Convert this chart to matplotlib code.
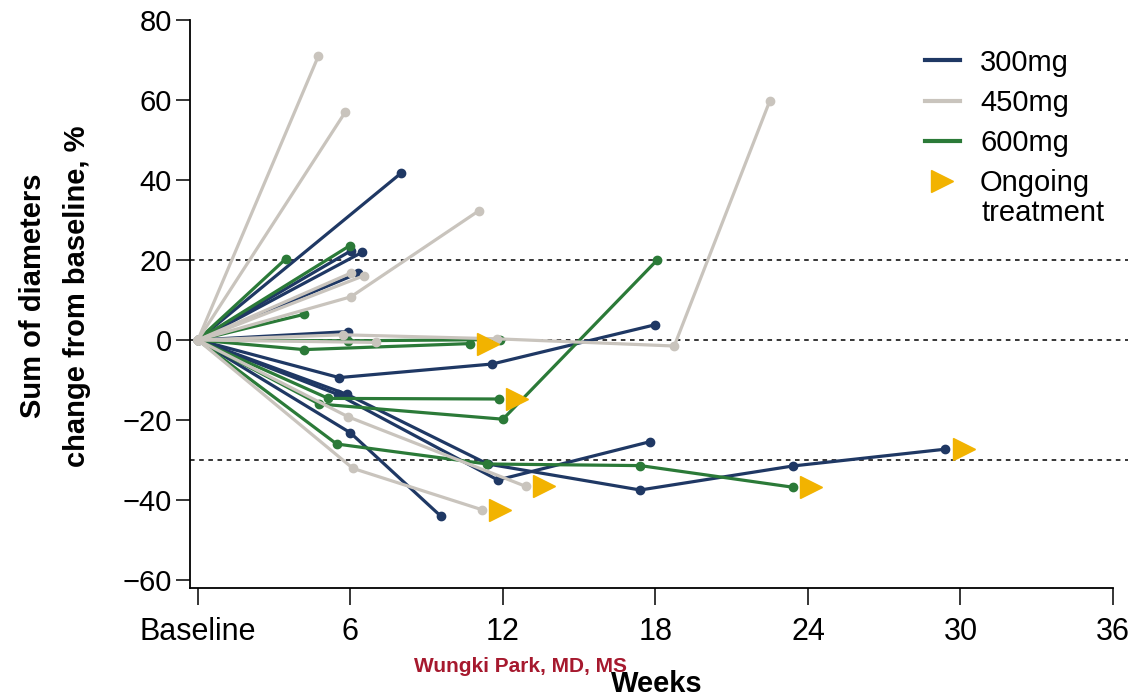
import matplotlib
matplotlib.use('Agg')
import matplotlib.pyplot as plt
from matplotlib.lines import Line2D

# each patient: weeks, % change from baseline, ongoing treatment flag
weeks_300 = [[0, 8.0], [0, 6.02], [0, 6.45], [0, 6.31], [0, 5.9],
             [0, 5.56, 11.58, 17.98], [0, 5.5, 11.8, 17.8],
             [0, 5.87, 11.4, 17.4, 23.4, 29.4], [0, 6.0, 9.55]]
pct_300 = [[0, 41.75], [0, 22.3], [0, 21.9], [0, 16.7], [0, 2.1],
           [0, -9.4, -6.0, 3.8], [0, -13.6, -35.0, -25.4],
           [0, -13.6, -31.0, -37.5, -31.5, -27.3], [0, -23.2, -44.0]]
ongoing_300 = [False, False, False, False, False, False, False, True, False]

weeks_450 = [[0, 4.74], [0, 5.8], [0, 6.02, 11.05], [0, 6.04], [0, 6.54],
             [0, 5.72, 11.75, 18.74, 22.5], [0, 7.0],
             [0, 5.91, 12.9], [0, 6.1, 11.16]]
pct_450 = [[0, 71.0], [0, 57.0], [0, 10.8, 32.3], [0, 16.8], [0, 16.1],
           [0, 1.3, 0.3, -1.5, 59.8], [0, -0.6],
           [0, -19.2, -36.6], [0, -32.1, -42.4]]
ongoing_450 = [False, False, False, False, False, False, False, True, True]

weeks_600 = [[0, 3.46], [0, 5.98], [0, 4.17], [0, 5.9, 11.9],
             [0, 4.17, 10.7], [0, 5.13, 11.84], [0, 4.77, 12.0, 18.07],
             [0, 5.46, 11.38, 17.4, 23.4]]
pct_600 = [[0, 20.3], [0, 23.6], [0, 6.4], [0, -0.2, 0.1],
           [0, -2.4, -0.9], [0, -14.6, -14.75], [0, -16.0, -19.8, 20.0],
           [0, -26.0, -31.0, -31.4, -36.8]]
ongoing_600 = [False, False, False, False, True, True, False, True]

ref_lines = [20, 0, -30]
xticks = [0, 6, 12, 18, 24, 30, 36]
xticklabels = ['Baseline', '6', '12', '18', '24', '30', '36']
yticks = [-60, -40, -20, 0, 20, 40, 60, 80]

c300 = '#1f3864'
c450 = '#c9c4bd'
c600 = '#2b7a38'
c_arrow = '#f2b300'

plt.rcParams['font.family'] = ['Liberation Sans', 'DejaVu Sans']

fig = plt.figure(figsize=(11.36, 6.98), dpi=100)
ax = fig.add_axes([190 / 1136, 110 / 698, 938 / 1136, 568 / 698])

for yv in ref_lines:
    ax.axhline(yv, color='black', lw=1.1, ls=(0, (3, 3)), zorder=1)

groups = [(weeks_300, pct_300, ongoing_300, c300),
          (weeks_600, pct_600, ongoing_600, c600),
          (weeks_450, pct_450, ongoing_450, c450)]
for wk, pc, og, col in groups:
    for w, p, o in zip(wk, pc, og):
        ax.plot(w, p, color=col, lw=2.3, marker='o', ms=6, zorder=2)
        if o:
            ax.plot(w[-1] + 0.72, p[-1], marker='>', ms=16, color=c_arrow,
                    ls='none', zorder=3)

ax.set_xlim(-0.31, 36.59)
ax.set_ylim(-62, 80)
ax.spines['top'].set_visible(False)
ax.spines['right'].set_visible(False)
ax.spines['bottom'].set_bounds(-0.31, 36)
ax.spines['left'].set_linewidth(1.3)
ax.spines['bottom'].set_linewidth(1.3)

ax.set_xticks(xticks)
ax.set_xticklabels(xticklabels)
ax.set_yticks(yticks)
ax.set_yticklabels([str(v).replace('-', '\u2212') for v in yticks])
ax.tick_params(axis='x', length=12, width=1.1, labelsize=22, pad=9)
ax.tick_params(axis='y', length=10, width=1.1, labelsize=21, pad=3)

fig.text(55 / 1136, 1 - 296 / 698,
         'Sum of diameters\nchange from baseline, %',
         rotation=90, ha='center', va='center', ma='center',
         fontsize=21, fontweight='bold', linespacing=1.7)
fig.text(657 / 1136, 1 - 684 / 698, 'Weeks', ha='center', va='center',
         fontsize=21, fontweight='bold')
fig.text(521 / 1136, 1 - 667 / 698, 'Wungki Park, MD, MS', ha='center',
         va='center', fontsize=15, fontweight='bold', color='#a6192e',
         family=['Liberation Sans Narrow', 'Liberation Sans', 'DejaVu Sans'])

handles = [Line2D([], [], color=c300, lw=3),
           Line2D([], [], color=c450, lw=3),
           Line2D([], [], color=c600, lw=3),
           Line2D([], [], color=c_arrow, marker='>', ls='none', ms=16)]
labels = ['300mg', '450mg', '600mg', 'Ongoing']
fig.legend(handles, labels, loc='upper left',
           bbox_to_anchor=(913 / 1136, 1 - 37 / 698), frameon=False,
           fontsize=21, handlelength=1.2, handletextpad=0.7,
           labelspacing=0.42, borderaxespad=0)
fig.text(982 / 1136, 1 - 213 / 698, 'treatment', ha='left', va='center',
         fontsize=21)

fig.savefig('out.png', dpi=100)
